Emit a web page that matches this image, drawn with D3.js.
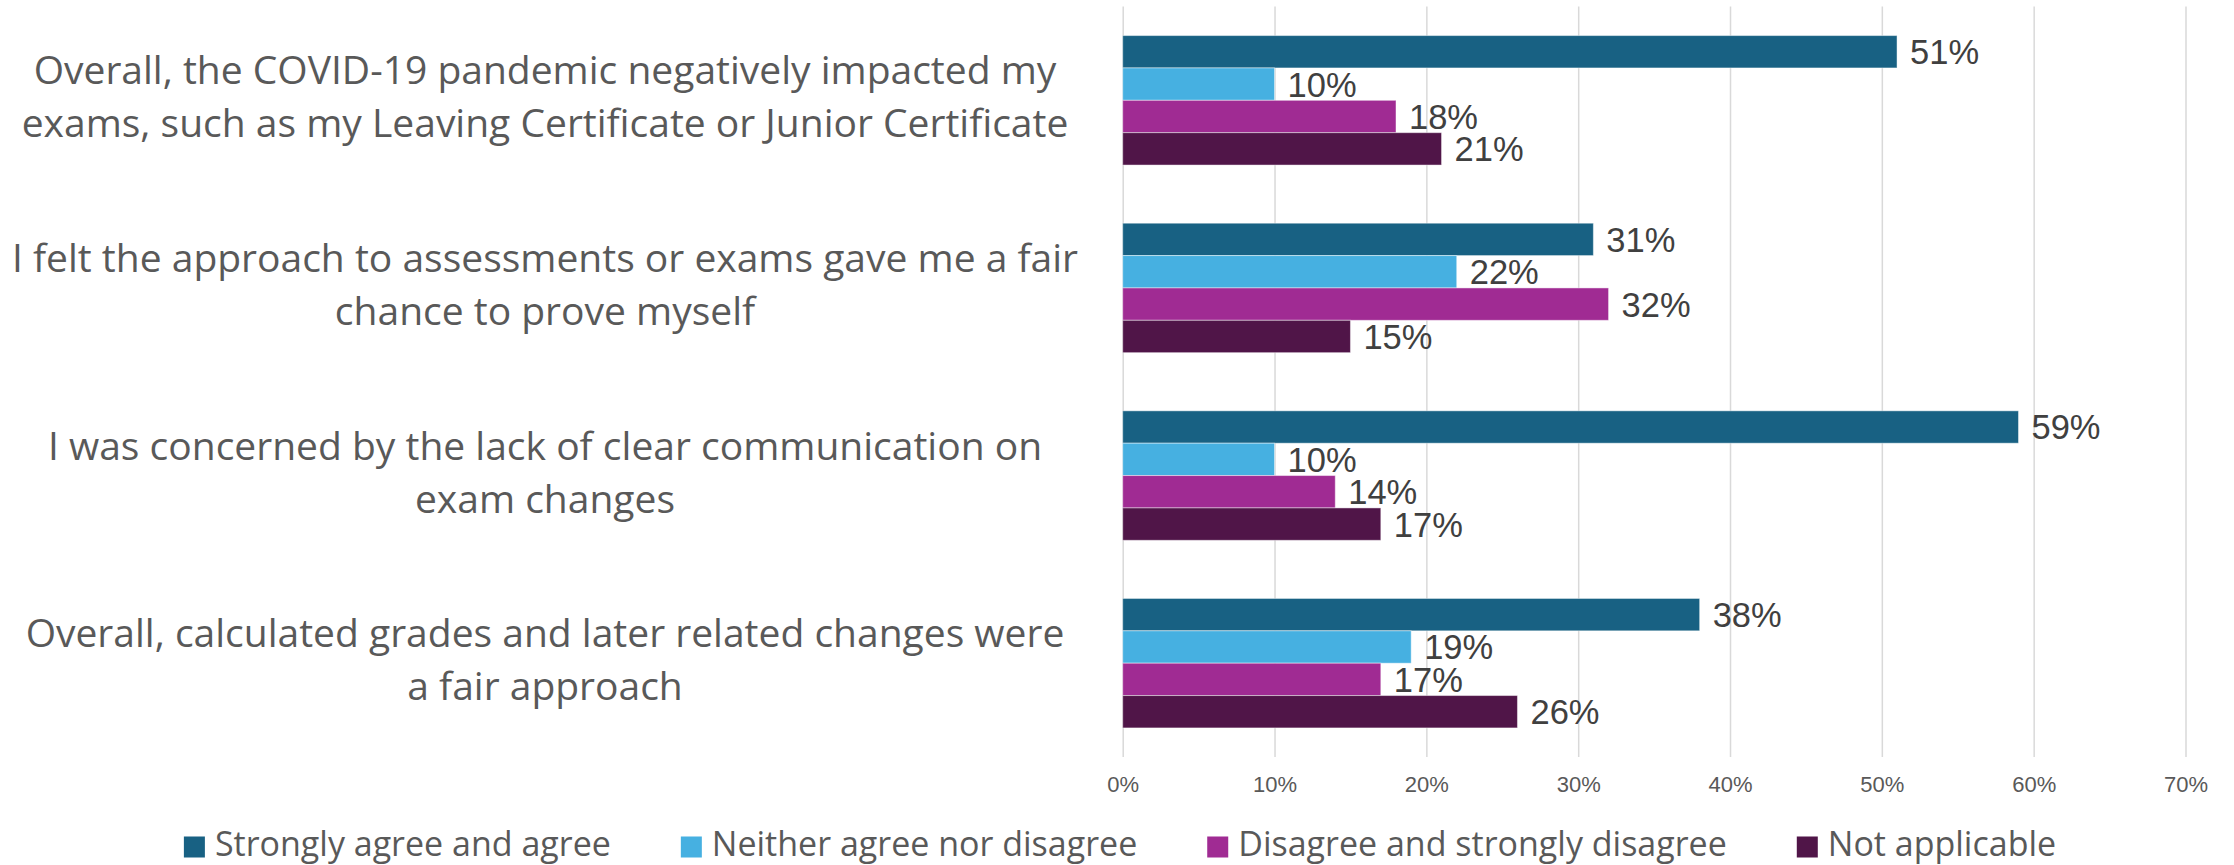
<!DOCTYPE html>
<html>
<head>
<meta charset="utf-8">
<script src="https://cdn.jsdelivr.net/npm/d3@7"></script>
<style>
  html, body { margin: 0; padding: 0; background: #ffffff; }
  svg { display: block; }
</style>
</head>
<body>
<svg id="chart" width="2234" height="865"></svg>
<script>
// Survey statements (each is drawn as wrapped, centred lines)
const categories = [
  ["Overall, the COVID-19 pandemic negatively impacted my", "exams, such as my Leaving Certificate or Junior Certificate"],
  ["I felt the approach to assessments or exams gave me a fair", "chance to prove myself"],
  ["I was concerned by the lack of clear communication on", "exam changes"],
  ["Overall, calculated grades and later related changes were", "a fair approach"]
];

const seriesNames = [
  "Strongly agree and agree",
  "Neither agree nor disagree",
  "Disagree and strongly disagree",
  "Not applicable"
];

// Percent of respondents, one array per response group (in statement order)
const stronglyAgree = [51, 31, 59, 38];
const neither = [10, 22, 10, 19];
const disagree = [18, 32, 14, 17];
const notApplicable = [21, 15, 17, 26];

const tickValues = [0, 10, 20, 30, 40, 50, 60, 70];

const colors = ["#186183", "#46B0E1", "#A02B93", "#501548"];

const series = [stronglyAgree, neither, disagree, notApplicable];

const svg = d3.select("#chart");

const plot = { left: 1122.7, right: 2185.5, top: 6.5, bottom: 757 };

const x = d3.scaleLinear().domain([0, 70]).range([plot.left, plot.right]);

const y = d3.scaleBand()
  .domain(d3.range(categories.length))
  .range([plot.top, plot.bottom])
  .paddingInner(0.31)
  .paddingOuter(0.155);

const ySub = d3.scaleBand()
  .domain(d3.range(series.length))
  .range([0, y.bandwidth()]);

// Vertical gridlines
const grid = svg.append("g")
  .attr("transform", `translate(0,${plot.bottom})`)
  .call(d3.axisBottom(x).tickValues(tickValues).tickSize(-(plot.bottom - plot.top)).tickFormat(""));
grid.select(".domain").remove();
grid.selectAll(".tick line").attr("stroke", "#d9d9d9").attr("stroke-width", 1.5);

// Percentage axis labels
const axis = svg.append("g")
  .attr("transform", `translate(0,${plot.bottom})`)
  .call(d3.axisBottom(x).tickValues(tickValues).tickSize(0).tickPadding(19).tickFormat(d => d + "%"));
axis.select(".domain").remove();
axis.selectAll(".tick text")
  .attr("font-family", "'Liberation Sans', Arial, sans-serif")
  .attr("font-size", 22)
  .attr("fill", "#595959");

// Bars and value labels
series.forEach((values, s) => {
  const g = svg.append("g");
  g.selectAll("rect")
    .data(values)
    .join("rect")
    .attr("x", x(0))
    .attr("y", (d, i) => y(i) + ySub(s))
    .attr("width", d => x(d) - x(0))
    .attr("height", ySub.bandwidth())
    .attr("fill", colors[s])
    .attr("stroke", "rgba(255,255,255,0.45)")
    .attr("stroke-width", 1);

  g.selectAll("text")
    .data(values)
    .join("text")
    .attr("x", d => x(d) + 13)
    .attr("y", (d, i) => y(i) + ySub(s) + ySub.bandwidth() / 2)
    .attr("dy", "0.36em")
    .attr("font-family", "'Liberation Sans', Arial, sans-serif")
    .attr("font-size", 34.5)
    .attr("fill", "#404040")
    .text(d => d + "%");
});

// Statement labels
const labelX = 545;
const lineGap = 53;
categories.forEach((lines, i) => {
  const cy = y(i) + y.bandwidth() / 2;
  const t = svg.append("text")
    .attr("text-anchor", "middle")
    .attr("font-family", "'Open Sans', sans-serif")
    .attr("font-size", 39)
    .attr("fill", "#595959");
  lines.forEach((line, k) => {
    t.append("tspan")
      .attr("x", labelX)
      .attr("y", cy + (k - (lines.length - 1) / 2) * lineGap - 3)
      .attr("dy", "0.35em")
      .text(line);
  });
});

// Legend, laid out from measured text widths and centred
const legend = svg.append("g");
const legendY = 845;
const sq = 21, sqGap = 10, itemGap = 70;
const items = seriesNames.map((name, i) => {
  const g = legend.append("g");
  g.append("rect")
    .attr("width", sq).attr("height", sq)
    .attr("y", legendY - sq / 2 + 2)
    .attr("fill", colors[i]);
  const txt = g.append("text")
    .attr("x", sq + sqGap)
    .attr("y", legendY)
    .attr("dy", "0.33em")
    .attr("font-family", "'Open Sans', sans-serif")
    .attr("font-size", 34)
    .attr("fill", "#595959")
    .text(name);
  return { g, w: sq + sqGap + txt.node().getComputedTextLength() };
});
const total = d3.sum(items, d => d.w) + itemGap * (items.length - 1);
let cx = 1120 - total / 2;
items.forEach(it => {
  it.g.attr("transform", `translate(${cx},0)`);
  cx += it.w + itemGap;
});
</script>
</body>
</html>
